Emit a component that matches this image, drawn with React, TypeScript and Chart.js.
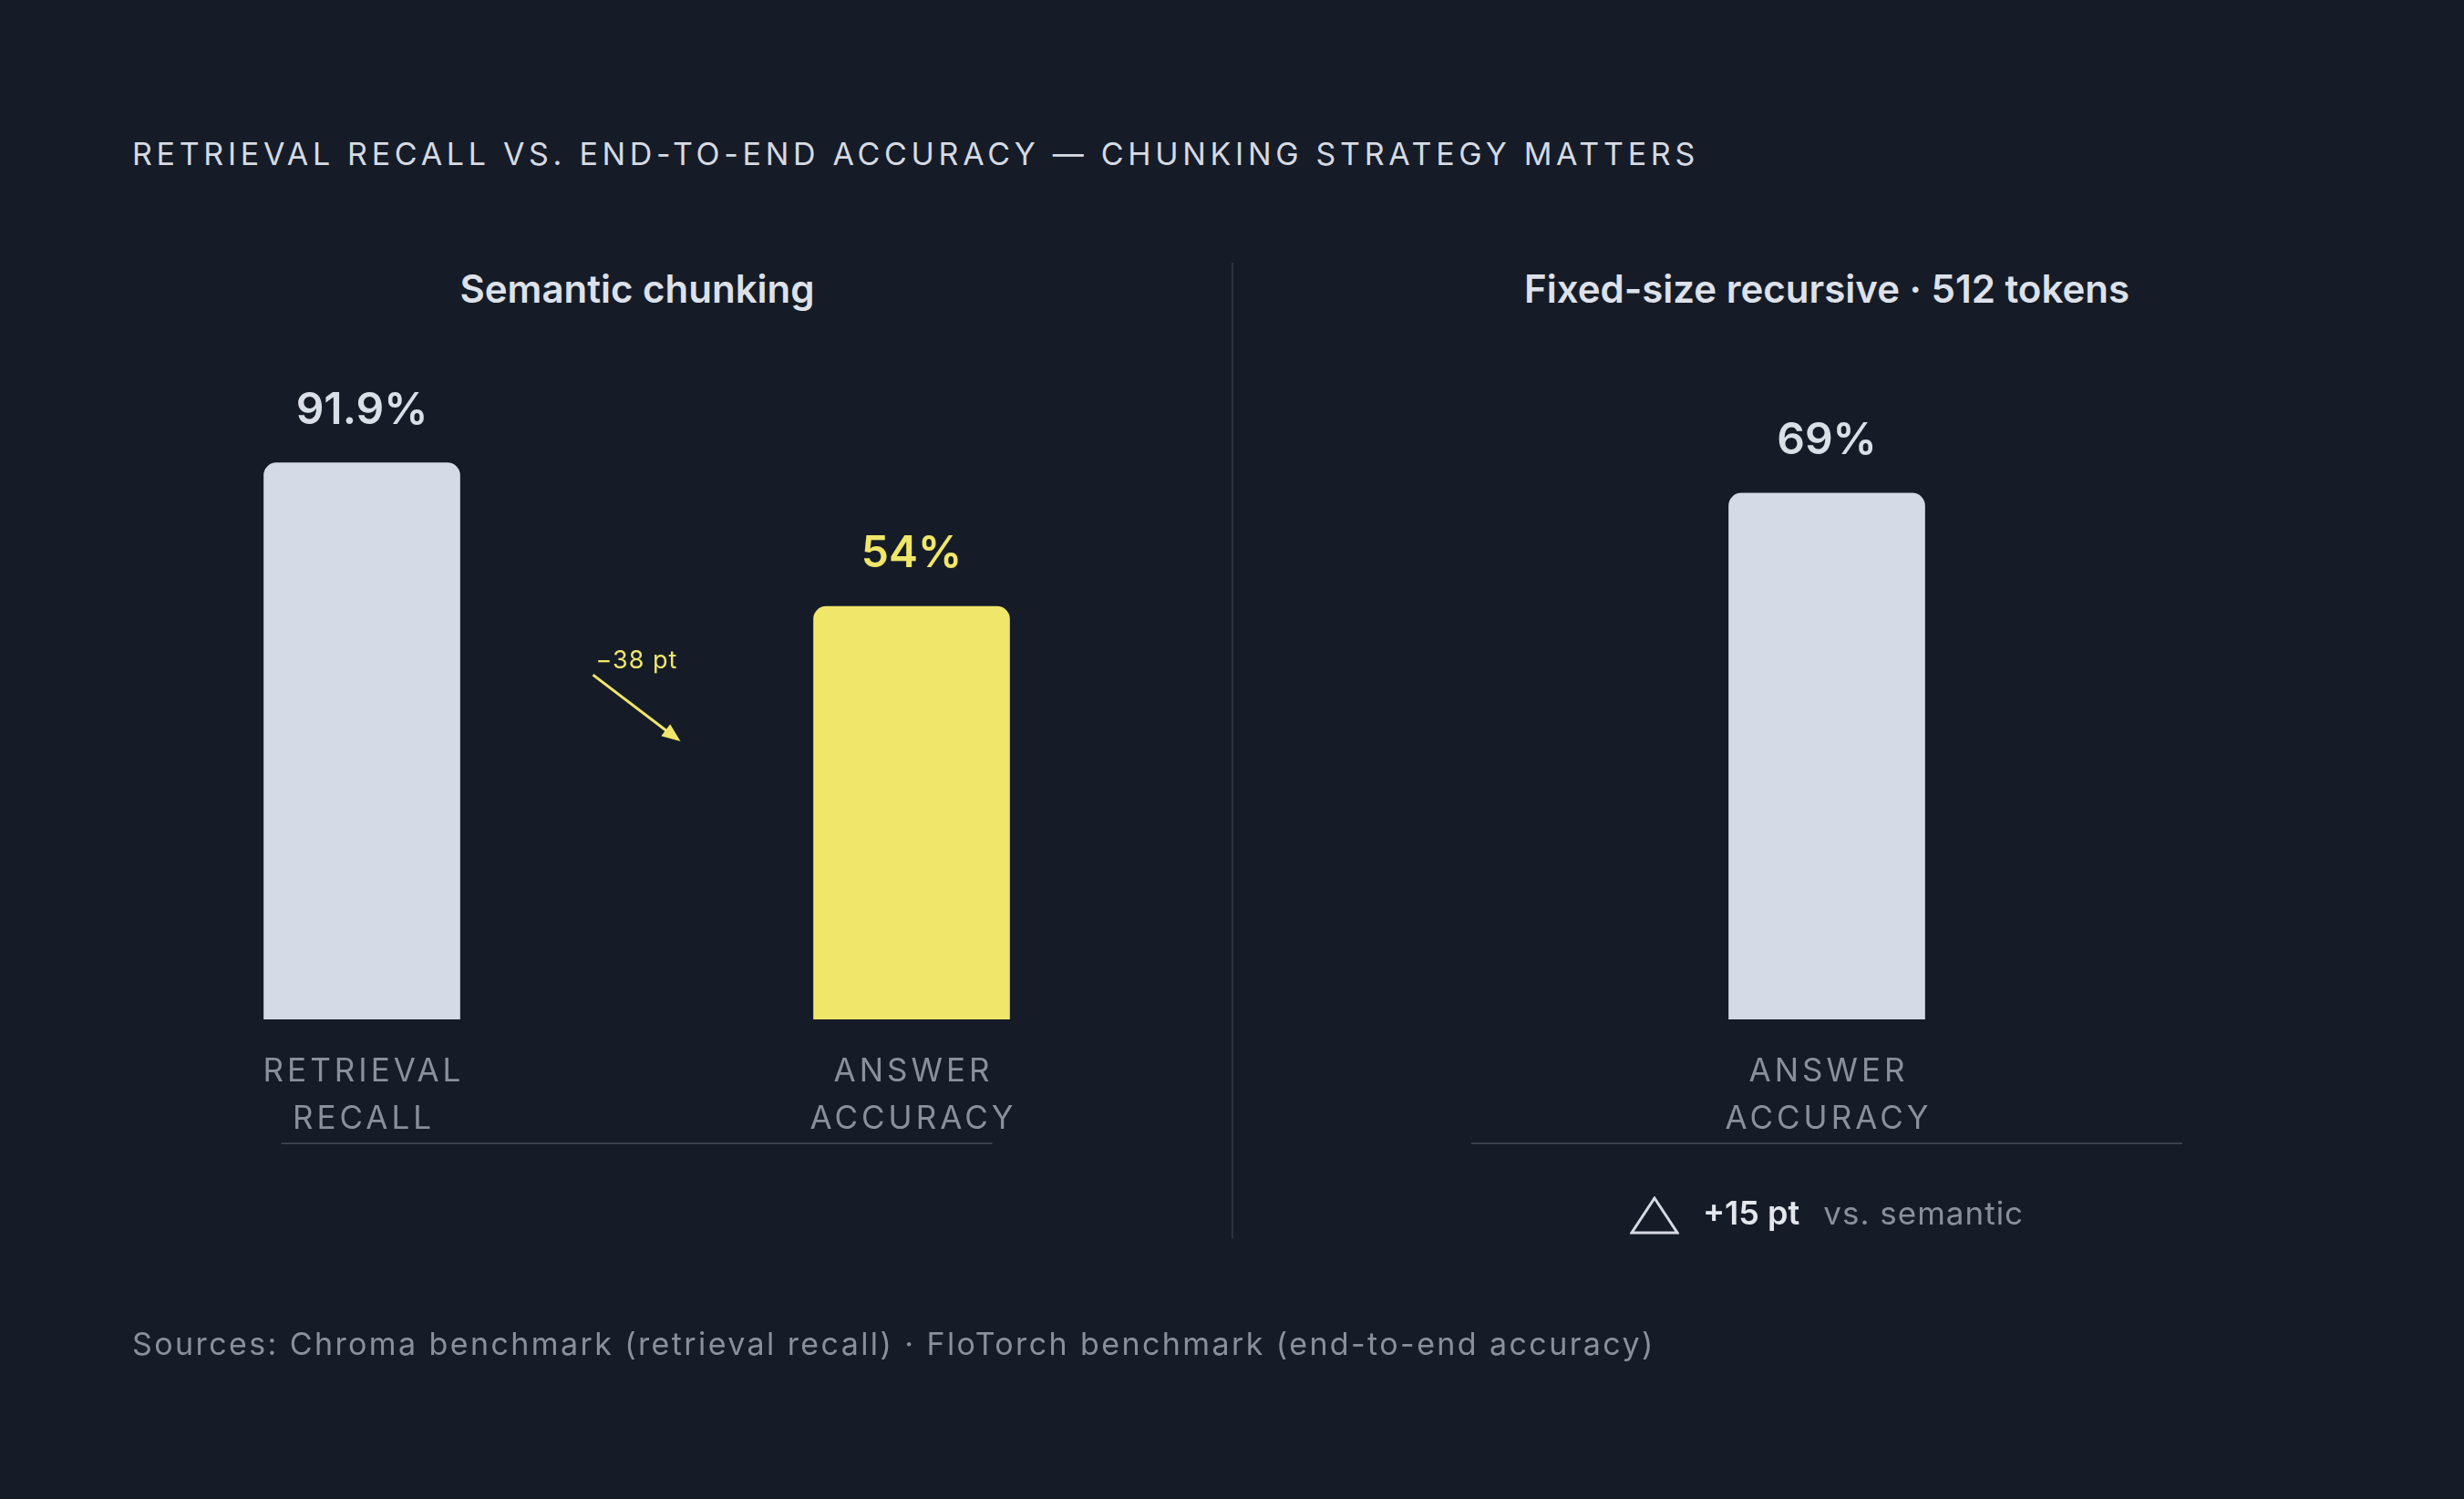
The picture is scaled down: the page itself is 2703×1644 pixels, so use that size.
import { useEffect, useRef } from "react"
import { Chart, registerables } from "chart.js"

Chart.register(...registerables)

// data
const LEFT_CATEGORIES = [["RETRIEVAL", "RECALL"], ["ANSWER", "ACCURACY"]]
const LEFT_VALUES = [91.9, 54]
const RIGHT_CATEGORIES = [["ANSWER", "ACCURACY"]]
const RIGHT_VALUES = [69]

const TITLE = "RETRIEVAL RECALL VS. END-TO-END ACCURACY — CHUNKING STRATEGY MATTERS"
const LEFT_TITLE = "Semantic chunking"
const RIGHT_TITLE = "Fixed-size recursive · 512 tokens"
const SOURCES = "Sources: Chroma benchmark (retrieval recall) · FloTorch benchmark (end-to-end accuracy)"

const BG = "#161c27"
const LIGHT = "#d5dbe6"
const YELLOW = "#f0e66a"
const MUTED = "#8a909b"
const FONT = "Inter, 'Noto Sans', sans-serif"

const barLabels = {
  id: "barLabels",
  afterDatasetsDraw(chart: any, _args: any, opts: any) {
    const { ctx, chartArea } = chart
    const meta = chart.getDatasetMeta(0)
    const values = chart.data.datasets[0].data
    const labels = chart.data.labels
    ctx.save()
    meta.data.forEach((bar: any, i: number) => {
      // value above bar
      ctx.font = `600 48px ${FONT}`
      ctx.fillStyle = opts.valueColors[i]
      ctx.textAlign = "center"
      ctx.textBaseline = "alphabetic"
      ctx.letterSpacing = "0px"
      ctx.fillText(`${values[i]}%`, bar.x, bar.y - 43)

      // category below bar
      ctx.font = `400 35px ${FONT}`
      ctx.fillStyle = MUTED
      ctx.letterSpacing = "4px"
      const lines: string[] = labels[i]
      lines.forEach((line, j) => {
        ctx.fillText(line, bar.x + 2, chartArea.bottom + 68 + j * 52)
      })
    })
    ctx.letterSpacing = "0px"

    // baseline rule
    const cx = (chartArea.left + chartArea.right) / 2
    ctx.strokeStyle = "#3a414b"
    ctx.lineWidth = 2
    ctx.beginPath()
    ctx.moveTo(cx - 390, chartArea.bottom + 136)
    ctx.lineTo(cx + 390, chartArea.bottom + 136)
    ctx.stroke()

    // drop annotation between the two bars
    if (opts.showDrop && meta.data.length > 1) {
      const a = meta.data[0]
      const b = meta.data[1]
      const mx = (a.x + b.x) / 2
      const top = b.y
      const drop = Math.round(values[1] - values[0])
      ctx.font = `400 27px ${FONT}`
      ctx.letterSpacing = "1px"
      ctx.fillStyle = YELLOW
      ctx.textAlign = "center"
      ctx.fillText(`${drop < 0 ? "−" : "+"}${Math.abs(drop)} pt`, mx, top + 68)
      ctx.letterSpacing = "0px"

      const x0 = mx - 48
      const y0 = top + 75
      const x1 = mx + 48
      const y1 = top + 148
      const ang = Math.atan2(y1 - y0, x1 - x0)
      const head = 22
      ctx.strokeStyle = YELLOW
      ctx.lineWidth = 3
      ctx.beginPath()
      ctx.moveTo(x0, y0)
      ctx.lineTo(x1 - Math.cos(ang) * head * 0.8, y1 - Math.sin(ang) * head * 0.8)
      ctx.stroke()
      ctx.beginPath()
      ctx.moveTo(x1, y1)
      ctx.lineTo(x1 - Math.cos(ang - 0.38) * head, y1 - Math.sin(ang - 0.38) * head)
      ctx.lineTo(x1 - Math.cos(ang + 0.38) * head, y1 - Math.sin(ang + 0.38) * head)
      ctx.closePath()
      ctx.fill()
    }
    ctx.restore()
  },
}

function Panel(props: {
  left: number
  width: number
  labels: string[][]
  values: number[]
  colors: string[]
  valueColors: string[]
  padLeft: number
  padRight: number
  min: number
  max: number
  showDrop?: boolean
}) {
  const chartRef = useRef<HTMLCanvasElement>(null)
  const chartInstance = useRef<Chart | null>(null)

  useEffect(() => {
    if (!chartRef.current) return
    if (chartInstance.current) chartInstance.current.destroy()
    const ctx = chartRef.current.getContext("2d")
    if (!ctx) return

    chartInstance.current = new Chart(ctx, {
      type: "bar",
      data: {
        labels: props.labels as any,
        datasets: [
          {
            data: props.values,
            backgroundColor: props.colors,
            borderRadius: 14,
            borderSkipped: "start",
            barThickness: 215,
            base: props.min,
          } as any,
        ],
      },
      options: {
        responsive: false,
        animation: false,
        layout: {
          padding: { left: props.padLeft, right: props.padRight, top: 474, bottom: 526 },
        },
        scales: {
          x: { display: false },
          y: { display: false, min: props.min, max: props.max },
        },
        plugins: {
          legend: { display: false },
          tooltip: { enabled: false },
          barLabels: { valueColors: props.valueColors, showDrop: !!props.showDrop },
        } as any,
      },
      plugins: [barLabels],
    })

    return () => {
      if (chartInstance.current) {
        chartInstance.current.destroy()
        chartInstance.current = null
      }
    }
  }, [])

  return (
    <canvas
      ref={chartRef}
      width={props.width}
      height={1644}
      style={{ position: "absolute", left: props.left, top: 0 }}
    />
  )
}

export default function App() {
  useEffect(() => {
    document.body.style.margin = "0"
    document.body.style.background = BG
  }, [])

  const plus = Math.round(RIGHT_VALUES[0] - LEFT_VALUES[1])

  return (
    <div
      style={{
        position: "absolute",
        left: 0,
        top: 0,
        width: 2703,
        height: 1644,
        background: BG,
        fontFamily: FONT,
        overflow: "hidden",
      }}
    >
      <div
        style={{
          position: "absolute",
          left: 145,
          top: 152,
          fontSize: 34,
          lineHeight: "34px",
          letterSpacing: "4.7px",
          color: "#d5dae3",
          whiteSpace: "nowrap",
        }}
      >
        {TITLE}
      </div>

      <div
        style={{
          position: "absolute",
          left: 299,
          width: 800,
          top: 296,
          textAlign: "center",
          fontSize: 42,
          lineHeight: "42px",
          fontWeight: 600,
          color: "#dde1e9",
          whiteSpace: "nowrap",
        }}
      >
        {LEFT_TITLE}
      </div>
      <div
        style={{
          position: "absolute",
          left: 1604,
          width: 800,
          top: 296,
          textAlign: "center",
          fontSize: 42,
          lineHeight: "42px",
          fontWeight: 600,
          color: "#dde1e9",
          whiteSpace: "nowrap",
        }}
      >
        {RIGHT_TITLE}
      </div>

      <div
        style={{
          position: "absolute",
          left: 1351,
          top: 288,
          width: 2,
          height: 1070,
          background: "#2c333d",
        }}
      />

      <Panel
        left={0}
        width={1352}
        labels={LEFT_CATEGORIES}
        values={LEFT_VALUES}
        colors={[LIGHT, YELLOW]}
        valueColors={["#d9dee7", YELLOW]}
        padLeft={95.5}
        padRight={50.5}
        min={-55}
        max={100}
        showDrop
      />
      <Panel
        left={1352}
        width={1351}
        labels={RIGHT_CATEGORIES}
        values={RIGHT_VALUES}
        colors={[LIGHT]}
        valueColors={["#d9dee7"]}
        padLeft={262}
        padRight={309}
        min={0}
        max={77}
      />

      <div
        style={{
          position: "absolute",
          left: 1604,
          width: 800,
          top: 1300,
          height: 60,
          display: "flex",
          justifyContent: "center",
          alignItems: "flex-end",
          whiteSpace: "nowrap",
        }}
      >
        <svg width={54} height={42} style={{ marginRight: 26, marginBottom: 6 }}>
          <polygon points="27,2 52,40 2,40" fill="none" stroke="#d5dae3" strokeWidth={3} />
        </svg>
        <span
          style={{
            position: "relative",
            top: -8,
            fontSize: 36,
            lineHeight: "44px",
            fontWeight: 600,
            color: "#e3e6ec",
          }}
        >
          {`+${plus} pt`}
        </span>
        <span
          style={{
            position: "relative",
            top: -8,
            fontSize: 35,
            lineHeight: "44px",
            letterSpacing: "1px",
            color: MUTED,
            marginLeft: 26,
          }}
        >
          vs. semantic
        </span>
      </div>

      <div
        style={{
          position: "absolute",
          left: 145,
          top: 1457,
          fontSize: 34,
          lineHeight: "34px",
          letterSpacing: "2.4px",
          color: MUTED,
          whiteSpace: "nowrap",
        }}
      >
        {SOURCES}
      </div>
    </div>
  )
}
